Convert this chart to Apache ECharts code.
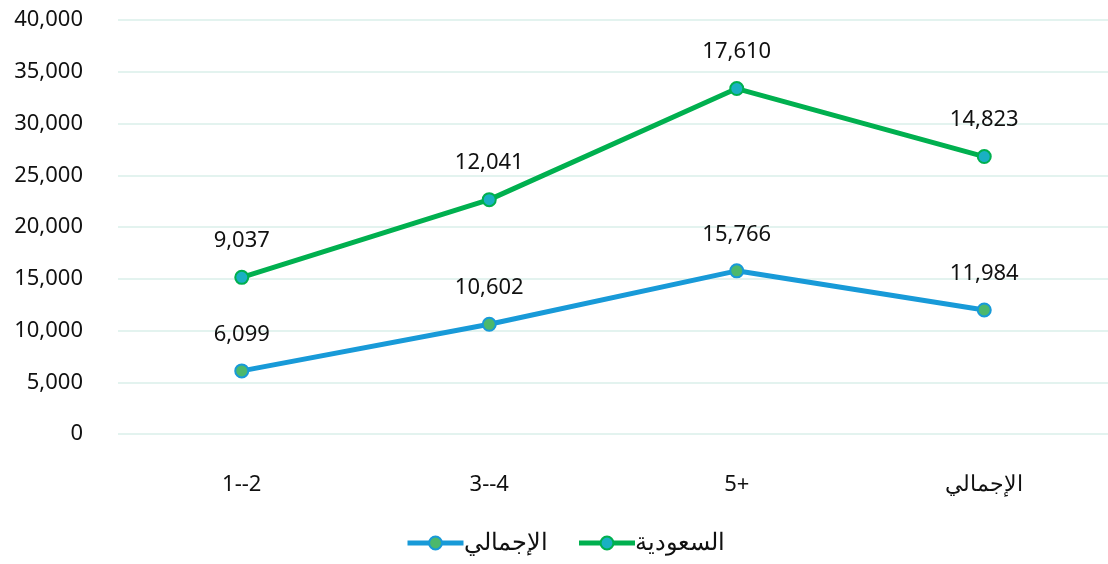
<!DOCTYPE html>
<html>
<head>
	<meta charset="UTF-8">
	<title>chart</title>
	<script src="https://cdn.jsdelivr.net/npm/echarts@6/dist/echarts.min.js"></script>
	<style>
		html, body { margin: 0; padding: 0; background: #fff; }
		#main { width: 1108px; height: 564px; }
	</style>
</head>
<body>
<div id="main"></div>
<script type="text/javascript">
	var categories = ['1--2', '3--4', '5+', 'الإجمالي'];
	var totalValues = [6099, 10602, 15766, 11984];
	var saudiValues = [9037, 12041, 17610, 14823];
	var totalName = 'الإجمالي';
	var saudiName = 'السعودية';

	var font = 'Noto Sans';
	var myChart = echarts.init(document.getElementById('main'));

	function fmt(v) {
		return echarts.format.addCommas(v);
	}

	var option = {
		backgroundColor: '#fff',
		textStyle: { fontFamily: font },
		grid: {
			left: 118,
			width: 997,
			top: 20,
			bottom: 130,
			containLabel: false
		},
		legend: {
			bottom: 4,
			left: 400,
			itemWidth: 56,
			itemHeight: 16,
			itemGap: 29,
			lineStyle: { width: 5 },
			textStyle: { fontSize: 24, color: '#111', fontFamily: font, padding: [0, 0, 0, -5] },
			data: [totalName, saudiName]
		},
		xAxis: {
			type: 'category',
			data: categories,
			boundaryGap: true,
			axisLine: { show: false },
			axisTick: { show: false },
			axisLabel: { fontSize: 22, color: '#111', margin: 40 }
		},
		yAxis: {
			type: 'value',
			min: 0,
			max: 40000,
			interval: 5000,
			axisLine: { show: false },
			axisTick: { show: false },
			splitLine: { lineStyle: { color: '#e3f3ef', width: 2 } },
			axisLabel: {
				fontSize: 22,
				color: '#111',
				margin: 35,
				formatter: function (v) { return fmt(v); }
			}
		},
		series: [
			{
				name: totalName,
				type: 'line',
				stack: 'all',
				data: totalValues,
				symbol: 'circle',
				symbolSize: 13,
				lineStyle: { color: '#189ad8', width: 5 },
				itemStyle: { color: '#4cb86c', borderColor: '#189ad8', borderWidth: 2 },
				label: {
					show: true,
					position: 'top',
					distance: 18,
					fontSize: 22,
					color: '#111',
					formatter: function (p) { return fmt(p.value); }
				}
			},
			{
				name: saudiName,
				type: 'line',
				stack: 'all',
				data: saudiValues,
				symbol: 'circle',
				symbolSize: 13,
				lineStyle: { color: '#00b04f', width: 5 },
				itemStyle: { color: '#1ab0c2', borderColor: '#00b04f', borderWidth: 2 },
				label: {
					show: true,
					position: 'top',
					distance: 18,
					fontSize: 22,
					color: '#111',
					formatter: function (p) { return fmt(p.value); }
				}
			}
		]
	};
	myChart.setOption(option);
</script>
</body>
</html>
